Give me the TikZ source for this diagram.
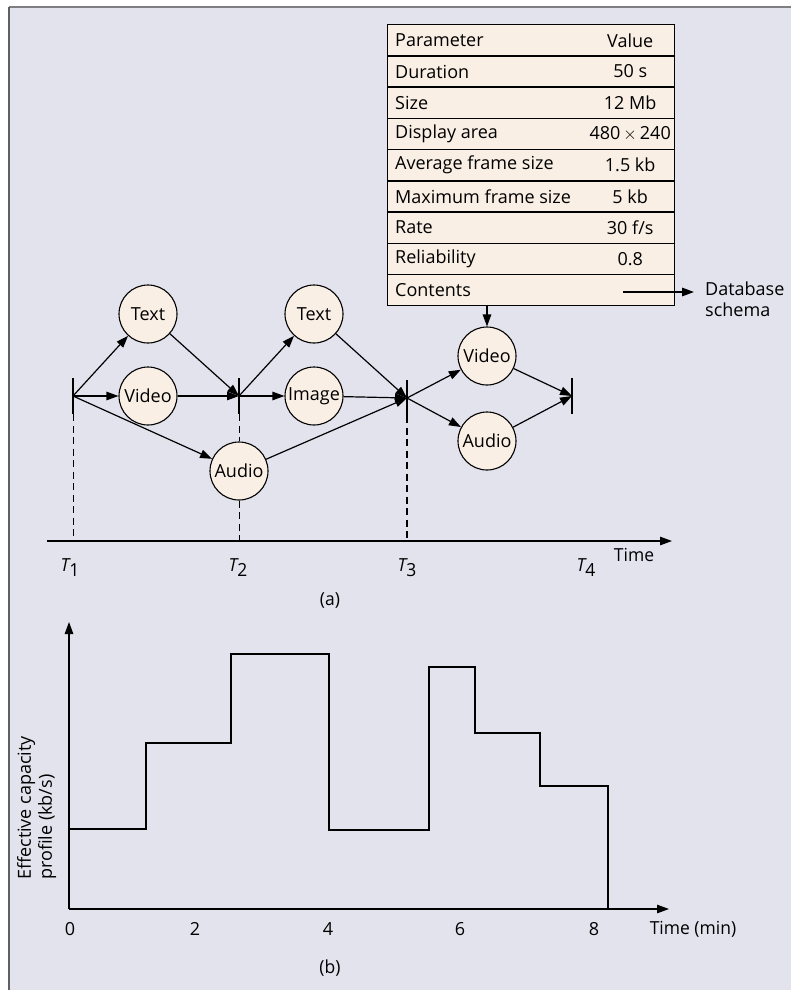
\documentclass[tikz,border=0pt]{standalone}
\usepackage{fontspec}
\setmainfont{Open Sans}
\usetikzlibrary{arrows.meta,calc}
\definecolor{bg}{RGB}{227,227,238}
\definecolor{cream}{RGB}{249,239,229}
\definecolor{framec}{RGB}{95,95,100}
\newcommand{\cond}[1]{\scalebox{0.97}[1]{#1}}
\begin{document}
\begin{tikzpicture}[x=1pt,y=-1pt,
  font=\fontsize{18}{21}\selectfont,
  ev/.style={circle, draw, fill=cream, minimum size=58pt, inner sep=0pt, line width=1.1pt},
  bar/.style={rectangle, fill=black, minimum width=2.8pt, minimum height=36pt, inner sep=0pt},
  arr/.style={-{Triangle[length=12pt,width=8.5pt]}, line width=1.2pt},
  rowbox/.style={rectangle, draw, fill=cream, line width=1.4pt, minimum width=287pt, minimum height=31.22pt, inner sep=0pt, anchor=north west},
  lbl/.style={inner sep=0pt},
  condf/.style={font=\fontsize{18}{21}\selectfont},
  thindash/.style={line width=1pt, dash pattern=on 7pt off 4.5pt},
  thickdash/.style={line width=2.4pt, dash pattern=on 7pt off 4.5pt},
  plotline/.style={line width=1.3pt}]
\useasboundingbox (0,0) rectangle (790,990);
% background and frame
\fill[bg] (8.5,7.5) rectangle (800,1000);
\draw[framec!80, line width=2pt] (8.5,7.5) -- (800,7.5);
\draw[framec, line width=2pt] (8.5,7.5) -- (8.5,1000);

% ---------- table ----------
\foreach \i/\p/\v in {0/Parameter/Value, 1/Duration/50 s, 2/Size/12 Mb,
  3/Display area/480\,$\times$\,240, 4/Average frame size/1.5 kb,
  5/Maximum frame size/5 kb, 6/Rate/{30 f/s}, 7/Reliability/0.8, 8/Contents/{}} {
  \node[rowbox] (row\i) at (387,24+31.22*\i) {};
  \node[lbl, anchor=west] (p\i) at ($(row\i.west)+(8,0)$) {\p};
  \node[lbl] (v\i) at ($(row\i.center)+(99,0)$) {\v};
}
\coordinate (cstart) at (623,292);
\coordinate (dbin) at (694,292);
\draw[arr, line width=1.6pt] (cstart) -- (dbin);
\node[lbl, anchor=north west, align=left] (db) at (705,282) {Database\\schema};

% ---------- graph (a) ----------
\node[bar] (b1) at (73,396) {};
\node[bar] (b2) at (239,396) {};
\node[bar] (b3) at (407,398) {};
\node[bar] (b4) at (572,396) {};
\node[ev] (t1) at (148,314) {Text};
\node[ev] (vd1) at (148,396) {Video};
\node[ev] (a1) at (239,471) {Audio};
\node[ev] (t2) at (314,314) {Text};
\node[ev] (im2) at (314,396) {Image};
\node[ev] (vd3) at (487,356) {Video};
\node[ev] (a3) at (487,441) {Audio};

\draw[arr] (row8.south -| vd3) -- (vd3.north);

\draw[arr] (b1.center) -- (t1);
\draw[arr] (b1.center) -- (vd1);
\draw[arr] (b1.center) -- (a1);
\draw[arr] (t1) -- (b2.center);
\draw[arr] (vd1) -- (b2.center);
\draw[arr] (b2.center) -- (t2);
\draw[arr] (b2.center) -- (im2);
\draw[arr] (t2) -- (b3.center);
\draw[arr] (im2) -- (b3.center);
\draw[arr] (a1) -- (b3.center);
\draw[arr] (b3.center) -- (vd3);
\draw[arr] (b3.center) -- (a3);
\draw[arr] (vd3) -- (b4.center);
\draw[arr] (a3) -- (b4.center);

% time axis
\coordinate (ax0) at (47,541);
\coordinate (ax1) at (672,541);
\draw[arr] (ax0) -- (ax1);
\draw[thindash] (b1.south) -- (b1.south |- ax0);
\draw[thindash] (b2.south) -- (a1.north);
\draw[thindash] (a1.south) -- (a1.south |- ax0);
\draw[thickdash] (b3.south) -- (b3.south |- ax0);

\node[lbl, condf] (T1) at (70,568) {\cond{\itshape T\raisebox{-5pt}{\upshape 1}}};
\node[lbl, condf] (T2) at (238,568) {\cond{\itshape T\raisebox{-5pt}{\upshape 2}}};
\node[lbl, condf] (T3) at (407,568) {\cond{\itshape T\raisebox{-5pt}{\upshape 3}}};
\node[lbl, condf] (T4) at (586,568) {\cond{\itshape T\raisebox{-5pt}{\upshape 4}}};
\node[lbl, condf] (timea) at (634,555) {\cond{Time}};
\node[lbl, condf] (capa) at (330,600) {\cond{(a)}};

% ---------- chart (b) ----------
\coordinate (o) at (69,909);
\coordinate (ytop) at (69,622);
\coordinate (xend) at (669,909);
\draw[arr] (o) -- (ytop);
\draw[arr] (o) -- (xend);
\draw[plotline] (69,829) -- (146,829) -- (146,743) -- (231,743) -- (231,654)
  -- (329,654) -- (329,830) -- (429,830) -- (429,667) -- (475,667) -- (475,733)
  -- (540,733) -- (540,786) -- (608,786) -- (608,909);
\foreach \x/\t in {70/0, 195/2, 328/4, 460/6, 594/8}
  \node[lbl] (tick\t) at (\x,929) {\t};
\node[lbl, condf] (timeb) at (693,929) {\cond{Time (min)}};
\node[lbl, condf] (capb) at (330,968) {\cond{(b)}};
\node[lbl, rotate=90, anchor=north west, align=left] (ylab) at (17,880)
  {Effective capacity\\profile (kb/s)};
\end{tikzpicture}
\end{document}
